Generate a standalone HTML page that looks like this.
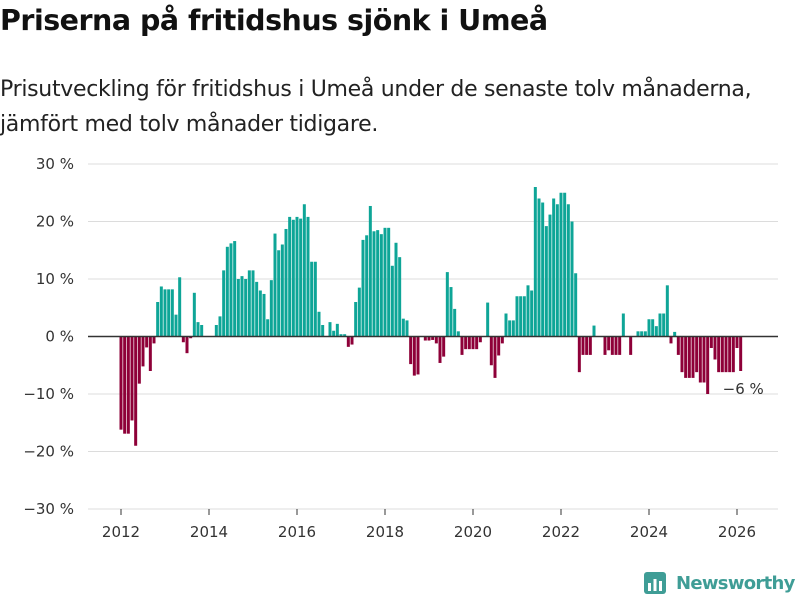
<!DOCTYPE html>
<html><head><meta charset="utf-8"><style>
body{margin:0;width:800px;height:600px;background:#fff;font-family:"Liberation Sans","DejaVu Sans",sans-serif;overflow:hidden;position:relative}
h1{position:absolute;left:0;top:4px;margin:0;font-size:28.5px;font-weight:bold;color:#111;font-family:"DejaVu Sans",sans-serif;letter-spacing:-0.5px;white-space:nowrap}
.sub{position:absolute;left:0;top:72px;margin:0;font-size:22px;line-height:35px;color:#222;font-family:"DejaVu Sans",sans-serif;letter-spacing:-0.3px;white-space:nowrap}
svg{position:absolute;left:0;top:0}
svg text{font-family:"DejaVu Sans",sans-serif;font-size:15px;fill:#333}
</style></head><body>
<h1>Priserna på fritidshus sjönk i Umeå</h1>
<p class="sub">Prisutveckling för fritidshus i Umeå under de senaste tolv månaderna,<br>jämfört med tolv månader tidigare.</p>
<svg id="chart" width="800" height="600"></svg>
<script>
const yTicks=[30,20,10,0,-10,-20,-30];
const yTickLabels=["30 %","20 %","10 %","0 %","−10 %","−20 %","−30 %"];
const xTickYears=[2012,2014,2016,2018,2020,2022,2024,2026];
const startYear=2012;
const values=[-16.2,-16.9,-16.9,-14.6,-19,-8.2,-5.2,-1.9,-6,-1.2,6,8.7,8.2,8.2,8.2,3.8,10.3,-1,-2.9,-0.3,7.6,2.5,2,null,null,null,2,3.5,11.5,15.6,16.2,16.6,10,10.5,10,11.5,11.5,9.5,8,7.4,3,9.8,17.9,15,16,18.7,20.8,20.3,20.8,20.5,23,20.8,13,13,4.3,2,
null,2.5,1,2.2,0.4,0.4,-1.8,-1.4,6,8.5,16.8,17.6,22.7,18.3,18.5,17.8,18.9,18.9,12.3,16.3,13.8,3.1,2.8,-4.8,-6.8,-6.6,null,-0.7,-0.7,-0.6,-1.2,-4.6,-3.5,11.2,8.6,4.8,0.9,-3.2,-2.2,-2.2,-2.2,-2.2,-1,null,5.9,-5,-7.2,-3.3,-1.2,4,2.8,2.8,7,
7,7,8.9,8,26,24,23.3,19.2,21.2,24,23,25,25,23,20,11,-6.2,-3.2,-3.2,-3.2,1.9,null,null,-3.2,-2.4,-3.2,-3.2,-3.2,4,null,-3.2,null,0.9,0.9,0.9,3,3,1.8,4,4,8.9,-1.2,0.8,-3.2,-6.2,-7.2,-7.2,-7.2,-6.2,-8,-8,-10,-2,-4,-6.2,-6.2,-6.2,-6.2,-6.2,-2,-6];
const lastLabel="−6 %";
const NS="http://www.w3.org/2000/svg";
const svg=document.getElementById('chart');
const y=v=>336.5-v*5.75;
const x=m=>121+m*(88/24);
function mk(t,a){const e=document.createElementNS(NS,t);for(const k in a)e.setAttribute(k,a[k]);svg.appendChild(e);return e;}
yTicks.forEach((t,i)=>{
  if(t!==0){const g=mk('line',{x1:88,x2:778,y1:y(t),y2:y(t),stroke:'#dcdcdc','stroke-width':1});
  
  }
  const l=mk('text',{x:74,y:y(t)+5,'text-anchor':'end'});l.textContent=yTickLabels[i];
  
  
});
values.forEach((v,i)=>{
  if(v===null)return;
  const r=mk('rect',{x:x(i)-1.5,width:3,y:Math.min(y(v),y(0)),height:Math.abs(y(v)-y(0)),fill:v>=0?'#0ea597':'#8e0038'});
  
  
});
const z=mk('line',{x1:88,x2:778,y1:y(0),y2:y(0),stroke:'#333','stroke-width':1.5});


xTickYears.forEach(yr=>{
  const m=(yr-startYear)*12;
  const tk=mk('line',{x1:x(m),x2:x(m),y1:509,y2:515,stroke:'#333'});
  
  
  const l=mk('text',{x:x(m),y:537,'text-anchor':'middle'});l.textContent=yr;
  
  
});
const li=values.length-1;
const lab=mk('text',{x:x(li)-18,y:y(values[li])+23,'font-size':14});lab.textContent=lastLabel;


</script>
<div style="position:absolute;left:644px;top:570px;display:flex;align-items:center">
<svg width="24" height="26" style="position:static"><rect x="0" y="2" width="22" height="22" rx="3" fill="#3f9d96"/><rect x="4" y="13" width="3" height="8" fill="#fff"/><rect x="9.5" y="9" width="3" height="12" fill="#fff"/><rect x="15" y="11" width="3" height="10" fill="#fff"/></svg>
<span style="margin-left:8px;font-size:18px;font-weight:bold;color:#3f9d96;font-family:'DejaVu Sans',sans-serif;letter-spacing:-0.7px">Newsworthy</span></div>
</body></html>
